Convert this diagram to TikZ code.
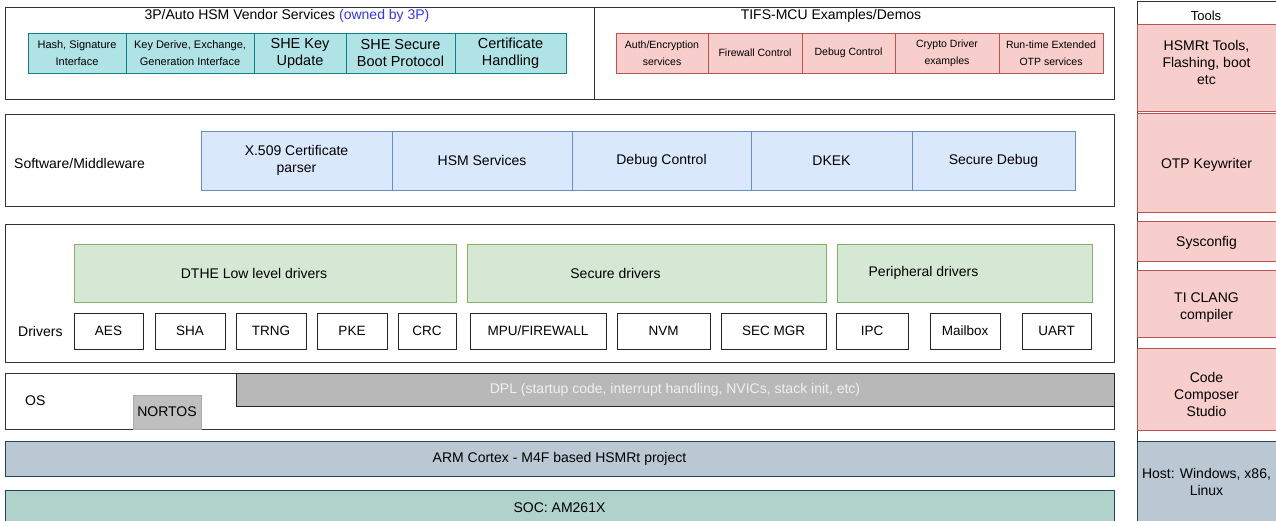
\documentclass[tikz,border=0pt]{standalone}
\usepackage{fontspec}
\setmainfont{Liberation Sans}
\usepackage{xcolor}
\usepackage{tikz}
\usetikzlibrary{positioning}

\definecolor{tealfill}{HTML}{B0E3E6}
\definecolor{tealline}{HTML}{0E8088}
\definecolor{redfill}{HTML}{F8CECC}
\definecolor{redline}{HTML}{B85450}
\definecolor{bluefill}{HTML}{DAE8FC}
\definecolor{blueline}{HTML}{6C8EBF}
\definecolor{greenfill}{HTML}{D5E8D4}
\definecolor{greenline}{HTML}{82B366}
\definecolor{slatefill}{HTML}{BAC8D3}
\definecolor{slateline}{HTML}{23445D}
\definecolor{socfill}{HTML}{AFD3CB}
\definecolor{dplgrey}{HTML}{B8B8B8}
\definecolor{osgrey}{HTML}{BFBFBF}
\definecolor{ownblue}{HTML}{3333FF}

\begin{document}
\begin{tikzpicture}[
  x=1pt, y=-1pt,
  node distance=0pt,
  layer/.style={draw=black!80, fill=white, line width=1pt},
  cell/.style={rectangle, draw, line width=0.9pt, align=center, inner sep=1pt, outer sep=0pt, font=\fontsize{14}{17}\selectfont},
  tealcell/.style={cell, fill=tealfill, draw=tealline, minimum height=40},
  redcell/.style={cell, fill=redfill, draw=redline, minimum height=40, font=\fontsize{10.5}{17}\selectfont},
  bluecell/.style={cell, fill=bluefill, draw=blueline, minimum height=59},
  greencell/.style={cell, fill=greenfill, draw=greenline, minimum height=58, anchor=north west},
  drvcell/.style={cell, draw=black!85, fill=white, minimum height=36, anchor=north west, font=\fontsize{13.5}{16}\selectfont},
  toolcell/.style={cell, fill=redfill, draw=redline, minimum width=139, anchor=north west},
  small/.style={font=\fontsize{11}{17}\selectfont},
  big/.style={font=\fontsize{14.5}{17}\selectfont},
  lbl/.style={inner sep=0pt, align=center, font=\fontsize{14}{17}\selectfont}
]
\useasboundingbox (0,0) rectangle (1276,520);

% 3P vendor services
\draw[layer] (5,7) rectangle (594,99);
\node[lbl] (vendor) at (287,16) {3P/Auto HSM Vendor Services \textcolor{ownblue}{(owned by 3P)}};
\node[tealcell, small, minimum width=98, anchor=north west] (hash) at (28,33) {Hash, Signature\\Interface};
\node[tealcell, small, minimum width=128, right=of hash] (keyder) {Key Derive, Exchange,\\Generation Interface};
\node[tealcell, big, minimum width=92, right=of keyder] (shekey) {SHE Key\\Update};
\node[tealcell, big, minimum width=109, right=of shekey] (sheboot) {SHE Secure\\Boot Protocol};
\node[tealcell, big, minimum width=111, right=of sheboot] (cert) {Certificate\\Handling};

% TIFS-MCU examples
\draw[layer] (594,7) rectangle (1114,99);
\node[lbl] (demos) at (831,16) {TIFS-MCU Examples/Demos};
\node[redcell, minimum width=92, anchor=north west] (auth) at (616,33) {Auth/Encryption\\services};
\node[redcell, minimum width=94, right=of auth] (fwctl) {Firewall Control};
\node[redcell, minimum width=93, right=of fwctl] (dbgex) {Debug Control};
\node[redcell, minimum width=104, right=of dbgex] (cryex) {Crypto Driver\\examples};
\node[redcell, minimum width=104, right=of cryex] (otpex) {Run-time Extended\\OTP services};

% Software/Middleware
\draw[layer] (5,114) rectangle (1114,206);
\node[lbl, anchor=west] (swlbl) at (14,163) {Software/Middleware};
\node[bluecell, minimum width=191, anchor=north west] (x509) at (201,131) {X.509 Certificate\\parser};
\node[bluecell, minimum width=180, right=of x509] (hsmsrv) {HSM Services};
\node[bluecell, minimum width=179, right=of hsmsrv] (dbgctl) {Debug Control};
\node[bluecell, minimum width=161, right=of dbgctl] (dkek) {DKEK};
\node[bluecell, minimum width=163, right=of dkek] (secdbg) {Secure Debug};

% Drivers
\draw[layer] (5,224) rectangle (1114,362);
\node[greencell, minimum width=382, label={[lbl, xshift=-11]center:DTHE Low level drivers}] (dthe) at (74,244) {};
\node[greencell, minimum width=359, label={[lbl, xshift=-31]center:Secure drivers}] (secdrv) at (467,244) {};
\node[greencell, minimum width=255, label={[lbl, xshift=-41]center:Peripheral drivers}] (periph) at (837,244) {};
\node[lbl, anchor=west] (drvlbl) at (18,331) {Drivers};
\node[drvcell, minimum width=69] (aes) at (74,313) {AES};
\node[drvcell, minimum width=70] (sha) at (155,313) {SHA};
\node[drvcell, minimum width=70] (trng) at (236,313) {TRNG};
\node[drvcell, minimum width=70] (pke) at (317,313) {PKE};
\node[drvcell, minimum width=58] (crc) at (398,313) {CRC};
\node[drvcell, minimum width=136] (mpu) at (470,313) {MPU/FIREWALL};
\node[drvcell, minimum width=93] (nvm) at (617,313) {NVM};
\node[drvcell, minimum width=105] (secmgr) at (721,313) {SEC MGR};
\node[drvcell, minimum width=72] (ipc) at (836,313) {IPC};
\node[drvcell, minimum width=70] (mbox) at (930,313) {Mailbox};
\node[drvcell, minimum width=69] (uart) at (1022,313) {UART};

% OS
\draw[layer] (5,373) rectangle (1114,429);
\node[lbl, anchor=west] (oslbl) at (25,401) {OS};
\node[cell, fill=dplgrey, draw=black!85, text=white!94!black, minimum width=878, minimum height=33, anchor=north west] (dpl) at (236,373) {DPL (startup code, interrupt handling, NVICs, stack init, etc)};
\node[cell, fill=osgrey, draw=osgrey!90!black, minimum width=68, minimum height=34, anchor=north west] (nortos) at (133,395) {NORTOS};

% Platform
\node[cell, fill=slatefill, draw=slateline, minimum width=1109, minimum height=35, anchor=north west] (arm) at (5,441) {ARM Cortex - M4F based HSMRt project};
\node[cell, fill=socfill, draw=slateline, minimum width=1109, minimum height=36, anchor=north west] (soc) at (5,490) {SOC: AM261X};

% Tools column
\draw[layer] (1137,1) rectangle (1277,522);
\node[lbl, font=\fontsize{13}{15}\selectfont] (tools) at (1206,16) {Tools};
\node[toolcell, minimum height=87, label={[lbl, yshift=5]center:HSMRt Tools,\\Flashing, boot\\etc}] (hsmrt) at (1137,24) {};
\node[toolcell, minimum height=99, label={[lbl, yshift=-2]center:OTP Keywriter}] (otp) at (1137,113) {};
\node[toolcell, minimum height=40, label={[lbl, yshift=-2]center:Sysconfig}] (syscfg) at (1137,221) {};
\node[toolcell, minimum height=67, label={[lbl, yshift=-4]center:TI CLANG\\compiler}] (clang) at (1137,270) {};
\node[toolcell, minimum height=82, label={[lbl, yshift=-5]center:Code\\Composer\\Studio}] (ccs) at (1137,348) {};
\node[toolcell, fill=slatefill, draw=slateline, minimum height=82] (host) at (1137,441) {Host: Windows, x86,\\Linux};
\end{tikzpicture}
\end{document}
